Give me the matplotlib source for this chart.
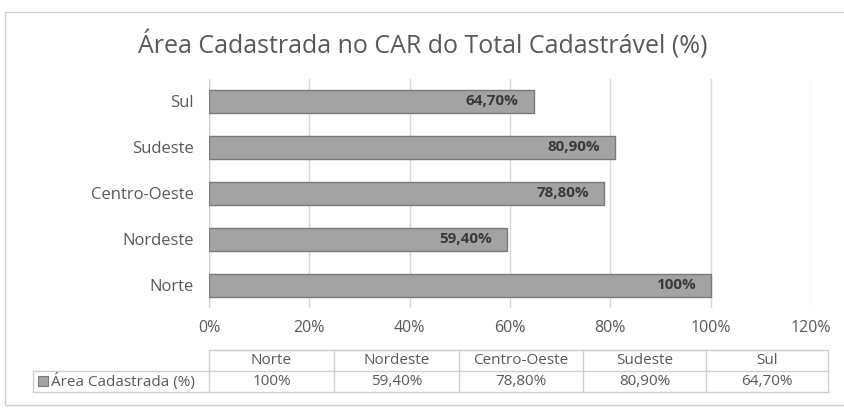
import matplotlib
matplotlib.use("Agg")
import matplotlib.pyplot as plt
from matplotlib.patches import Rectangle
from matplotlib.lines import Line2D

categories = ["Norte", "Nordeste", "Centro-Oeste", "Sudeste", "Sul"]
values = [100.0, 59.4, 78.8, 80.9, 64.7]
bar_labels = ["100%", "59,40%", "78,80%", "80,90%", "64,70%"]
table_values = ["100%", "59,40%", "78,80%", "80,90%", "64,70%"]
series_name = "Área Cadastrada (%)"
xticks = [0, 20, 40, 60, 80, 100, 120]
xtick_labels = ["0%", "20%", "40%", "60%", "80%", "100%", "120%"]
title = "Área Cadastrada no CAR do Total Cadastrável (%)"

plt.rcParams['font.family'] = ['Open Sans', 'DejaVu Sans']
W, H = 845, 409
fig = plt.figure(figsize=(W/100, H/100), dpi=100)
TXT = "#595959"

def fx(px): return px / W
def fy(py): return 1 - py / H

# outer border
fig.patches.append(Rectangle((fx(5), fy(405)), fx(845) - fx(5) + 0.01, fy(12) - fy(405),
                             transform=fig.transFigure, fill=False, edgecolor="#d0d0d0", lw=1))

ax = fig.add_axes([fx(209), fy(308), fx(811) - fx(209), fy(78.5) - fy(308)])
y = list(range(len(categories)))
ax.barh(y, values, height=0.5, color="#a3a3a3", edgecolor="#7a7a7a", linewidth=1, zorder=3)
for yi, v, lab in zip(y, values, bar_labels):
    ax.text(v - 3.0, yi, lab, ha="right", va="center", fontsize=11, fontweight="bold",
            color="#3a3a3a", zorder=4)
ax.set_xlim(0, 120)
ax.set_ylim(-0.5, len(categories) - 0.5)
ax.set_xticks(xticks)
ax.set_xticklabels(xtick_labels, color=TXT, fontsize=11.5)
ax.set_yticks(y)
ax.set_yticklabels(categories, color=TXT, fontsize=12)
ax.tick_params(axis="x", length=0, pad=9)
ax.tick_params(axis="y", length=0, pad=11)
ax.grid(axis="x", color="#d9d9d9", lw=1, zorder=0)
for s in ax.spines.values():
    s.set_visible(False)
ax.axvline(0, color="#d0d0d0", lw=1, zorder=2)

fig.text(0.5, fy(45), title, ha="center", va="center", fontsize=18, color=TXT)

# data table
colx = [209, 334, 459, 583, 706, 828]
r0, r1, r2 = 350, 371, 392
lc = "#cfcfcf"
def hline(x0, x1, yy):
    fig.add_artist(Line2D([fx(x0), fx(x1)], [fy(yy), fy(yy)], color=lc, lw=1))
def vline(xx, y0, y1):
    fig.add_artist(Line2D([fx(xx), fx(xx)], [fy(y0), fy(y1)], color=lc, lw=1))
hline(colx[0], colx[-1], r0)
hline(33, colx[-1], r1)
hline(33, colx[-1], r2)
vline(33, r1, r2)
for cx in colx:
    vline(cx, r0, r2)
for i, cat in enumerate(categories):
    xc = (colx[i] + colx[i + 1]) / 2
    fig.text(fx(xc), fy((r0 + r1) / 2), cat, ha="center", va="center", fontsize=11, color=TXT)
    fig.text(fx(xc), fy((r1 + r2) / 2), table_values[i], ha="center", va="center", fontsize=11, color=TXT)
fig.patches.append(Rectangle((fx(38), fy(386)), fx(10), fy(376) - fy(386),
                             transform=fig.transFigure, facecolor="#a3a3a3", edgecolor="#7a7a7a", lw=0.8))
fig.text(fx(51), fy((r1 + r2) / 2), series_name, ha="left", va="center", fontsize=11, color=TXT)

fig.savefig("out.png", dpi=100)
